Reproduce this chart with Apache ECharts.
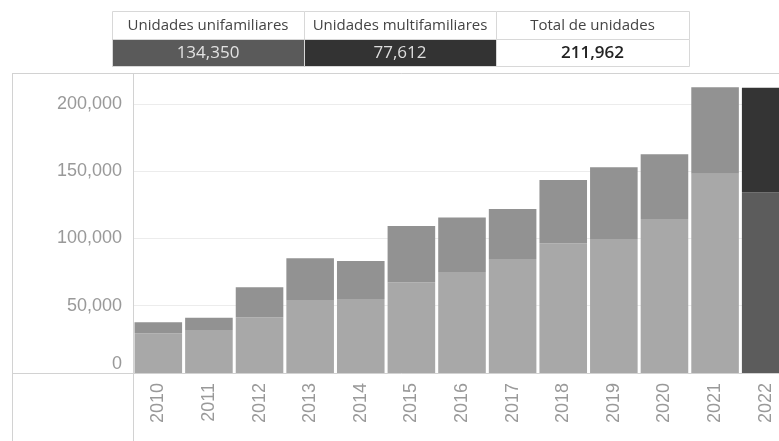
<!DOCTYPE html>
<html>
<head>
<meta charset="utf-8">
<script src="https://cdn.jsdelivr.net/npm/echarts@6/dist/echarts.min.js"></script>
<style>
  html, body { margin: 0; padding: 0; background: #fff; overflow: hidden; }
  /* canvas a bit wider than the window so the last bar gets cut off */
  #chart { width: 791px; height: 441px; }
</style>
</head>
<body>
<div id="chart"></div>
<script>
// data
const years = ["2010", "2011", "2012", "2013", "2014", "2015", "2016",
  "2017", "2018", "2019", "2020", "2021", "2022"];
const unifamiliares = [29500, 32000, 41400, 54300, 55000, 67400, 75100,
  84800, 96400, 99600, 114500, 148200, 134350];
const multifamiliares = [8200, 9100, 22300, 31000, 28300, 41900, 40400,
  37100, 47100, 53300, 48100, 64200, 77612];
const headerLabels = ["Unidades unifamiliares", "Unidades multifamiliares", "Total de unidades"];

const last = years.length - 1;
const fmt = (v) => v.toLocaleString("en-US");

// highlighted (current) year gets darker colours
const barData = (arr, color, hiColor) =>
  arr.map((v, i) => ({
    value: v,
    itemStyle: { color: i === last ? hiColor : color },
  }));

const lineColor = "#d2d2d2";
const headerValues = [
  unifamiliares[last],
  multifamiliares[last],
  unifamiliares[last] + multifamiliares[last],
];

// summary table on top
const cellX = [112, 304, 496];
const cellW = [192, 192, 193];
const cellBg = ["#5a5a5a", "#333333", "#ffffff"];
const cellFg = ["#e2e2e2", "#dedede", "#222222"];
const table = [];
for (let i = 0; i < 3; i++) {
  table.push({
    type: "rect",
    shape: { x: cellX[i] + 0.5, y: 11.5, width: cellW[i], height: 28 },
    style: { fill: "#fff", stroke: "#d8d8d8", lineWidth: 1 },
  });
  table.push({
    type: "rect",
    shape: { x: cellX[i] + 0.5, y: 39.5, width: cellW[i], height: 27 },
    style: { fill: cellBg[i], stroke: "#d8d8d8", lineWidth: 1 },
  });
  table.push({
    type: "text",
    x: cellX[i] + cellW[i] / 2,
    y: 26,
    style: {
      text: headerLabels[i],
      align: "center",
      verticalAlign: "middle",
      fill: "#444",
      font: '15px "Open Sans", sans-serif',
    },
  });
  table.push({
    type: "text",
    x: cellX[i] + cellW[i] / 2,
    y: 53,
    style: {
      text: fmt(headerValues[i]),
      align: "center",
      verticalAlign: "middle",
      fill: cellFg[i],
      font: (i === 2 ? "600 " : "") + '17px "Open Sans", sans-serif',
    },
  });
}

// frame lines like the dashboard panel
const frame = [
  [12, 73.5, 791, 73.5],
  [12.5, 73, 12.5, 441],
  [133.5, 73, 133.5, 441],
  [12, 373.5, 791, 373.5],
].map((p) => ({
  type: "line",
  shape: { x1: p[0], y1: p[1], x2: p[2], y2: p[3] },
  style: { stroke: lineColor, lineWidth: 1 },
  z: 10,
}));

const myChart = echarts.init(document.getElementById("chart"));
const option = {
  animation: false,
  grid: { left: 133, right: 0, top: 73, bottom: 68 },
  xAxis: {
    type: "category",
    data: years,
    axisLine: { show: false },
    axisTick: { show: false },
    axisLabel: {
      rotate: 90,
      margin: 10,
      color: "#999",
      fontSize: 18,
      fontFamily: "Liberation Sans",
    },
  },
  yAxis: {
    type: "value",
    min: 0,
    max: 223000,
    interval: 50000,
    axisLine: { show: false },
    axisTick: { show: false },
    splitLine: { lineStyle: { color: "#ececec", width: 1 } },
    axisLabel: {
      margin: 11,
      color: "#999",
      fontSize: 18,
      fontFamily: "Liberation Sans",
      showMaxLabel: false,
      verticalAlignMinLabel: "bottom",
      formatter: (v) => (v % 50000 === 0 ? fmt(v) : ""),
    },
  },
  series: [
    {
      name: "Unidades unifamiliares",
      type: "bar",
      stack: "total",
      barCategoryGap: "6%",
      data: barData(unifamiliares, "#a8a8a8", "#5c5c5c"),
    },
    {
      name: "Unidades multifamiliares",
      type: "bar",
      stack: "total",
      barCategoryGap: "6%",
      data: barData(multifamiliares, "#929292", "#343434"),
    },
  ],
  graphic: table.concat(frame),
};
myChart.setOption(option);
</script>
</body>
</html>
